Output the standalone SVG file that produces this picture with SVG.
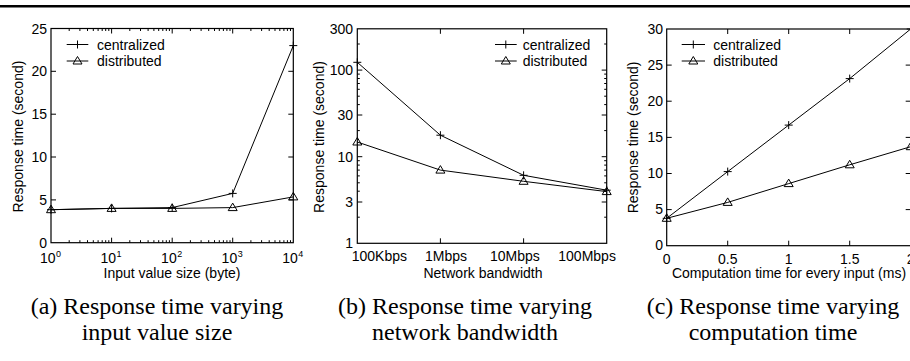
<svg xmlns="http://www.w3.org/2000/svg" xmlns:xlink="http://www.w3.org/1999/xlink" width="910" height="361" viewBox="0 0 910 361">
  <style>
    .ax { fill: none; stroke: #000; stroke-width: 1.2; }
    .tk { fill: none; stroke: #000; stroke-width: 1; }
    .dl { fill: none; stroke: #000; stroke-width: 1; }
    .t { font-family: "Liberation Sans", Arial, sans-serif; font-size: 14px; fill: #000; }
    .e { text-anchor: end; }
    .m { text-anchor: middle; }
    .sup { font-family: "Liberation Sans", Arial, sans-serif; font-size: 9px; fill: #000; }
    .cap { font-family: "Liberation Serif", "Times New Roman", serif; font-size: 24px; fill: #000; text-anchor: middle; }
  </style>
  <defs>
    <path id="plus" d="M-4,0H4M0,-4V4" fill="none" stroke="#000" stroke-width="1"/>
    <path id="tri" d="M0,-4.5L4.5,3L-4.5,3Z" fill="none" stroke="#000" stroke-width="1"/>
    <!-- minor ticks for one decade of a horizontal log axis (60.575 px per decade) -->
    <path id="mxa" d="M18.2,0v-2.5M28.9,0v-2.5M36.5,0v-2.5M42.3,0v-2.5M47.1,0v-2.5M51.2,0v-2.5M54.7,0v-2.5M57.8,0v-2.5" class="tk"/>
    <!-- minor ticks for one decade of a vertical log axis (86.6 px per decade), 2,4..9 -->
    <path id="myb" d="M0,-26.1h2.5M0,-52.1h2.5M0,-60.5h2.5M0,-67.4h2.5M0,-73.2h2.5M0,-78.2h2.5M0,-82.6h2.5" class="tk"/>
  </defs>

  <!-- top rule -->
  <rect id="rule" x="0" y="5" width="910" height="2.5" fill="#000"/>

  <!-- (a) response time vs input value size -->
  <g id="panel-a">
    <rect class="ax" x="51" y="28.5" width="242.3" height="214.2"/>
    <path class="tk" d="M111.6,242.7v-5M172.2,242.7v-5M232.7,242.7v-5M111.6,28.5v5M172.2,28.5v5M232.7,28.5v5M51,199.9h5M51,157h5M51,114.2h5M51,71.3h5M293.3,199.9h-5M293.3,157h-5M293.3,114.2h-5M293.3,71.3h-5"/>
    <use xlink:href="#mxa" transform="translate(51,242.7)"/>
    <use xlink:href="#mxa" transform="translate(111.6,242.7)"/>
    <use xlink:href="#mxa" transform="translate(172.2,242.7)"/>
    <use xlink:href="#mxa" transform="translate(232.7,242.7)"/>
    <use xlink:href="#mxa" transform="translate(51,28.5) scale(1,-1)"/>
    <use xlink:href="#mxa" transform="translate(111.6,28.5) scale(1,-1)"/>
    <use xlink:href="#mxa" transform="translate(172.2,28.5) scale(1,-1)"/>
    <use xlink:href="#mxa" transform="translate(232.7,28.5) scale(1,-1)"/>
    <g class="t e">
      <text x="47" y="247.7">0</text>
      <text x="47" y="204.9">5</text>
      <text x="47" y="162">10</text>
      <text x="47" y="119.2">15</text>
      <text x="47" y="76.3">20</text>
      <text x="47" y="33.5">25</text>
    </g>
    <g class="t e">
      <text x="55.5" y="263">10</text>
      <text x="116.1" y="263">10</text>
      <text x="176.7" y="263">10</text>
      <text x="237.2" y="263">10</text>
      <text x="297.8" y="263">10</text>
    </g>
    <g class="sup">
      <text x="56" y="256.5">0</text>
      <text x="116.6" y="256.5">1</text>
      <text x="177.2" y="256.5">2</text>
      <text x="237.7" y="256.5">3</text>
      <text x="298.3" y="256.5">4</text>
    </g>
    <text class="t m" x="172" y="278">Input value size (byte)</text>
    <text class="t m" transform="translate(23,136.5) rotate(-90)">Response time (second)</text>
    <polyline class="dl" points="51,209.7 111.6,208.4 172.2,207.6 232.7,193.4 293.3,45.6"/>
    <polyline class="dl" points="51,209.7 111.6,208.4 172.2,208.4 232.7,207.6 293.3,196.9"/>
    <use xlink:href="#plus" x="51" y="209.7"/>
    <use xlink:href="#plus" x="111.6" y="208.4"/>
    <use xlink:href="#plus" x="172.2" y="207.6"/>
    <use xlink:href="#plus" x="232.7" y="193.4"/>
    <use xlink:href="#plus" x="293.3" y="45.6"/>
    <use xlink:href="#tri" x="51" y="209.7"/>
    <use xlink:href="#tri" x="111.6" y="208.4"/>
    <use xlink:href="#tri" x="172.2" y="208.4"/>
    <use xlink:href="#tri" x="232.7" y="207.6"/>
    <use xlink:href="#tri" x="293.3" y="196.9"/>
    <path class="dl" d="M66.7,44.5H88.3M66.7,61H88.3"/>
    <use xlink:href="#plus" x="77.5" y="44.5"/>
    <use xlink:href="#tri" x="77.5" y="61"/>
    <text class="t" x="97" y="49.5">centralized</text>
    <text class="t" x="97" y="66">distributed</text>
    <text class="cap" x="157" y="313.5">(a) Response time varying</text>
    <text class="cap" x="157" y="340">input value size</text>
  </g>

  <!-- (b) response time vs network bandwidth -->
  <g id="panel-b">
    <rect class="ax" x="357.3" y="28.8" width="249.4" height="214.5"/>
    <path class="tk" d="M440.4,243.3v-5M523.6,243.3v-5M440.4,28.8v5M523.6,28.8v5M357.3,202h5M357.3,156.7h5M357.3,115h5M357.3,70.1h5M606.7,202h-5M606.7,156.7h-5M606.7,115h-5M606.7,70.1h-5M357.3,44h2.5M606.7,44h-2.5"/>
    <use xlink:href="#myb" transform="translate(357.3,243.3)"/>
    <use xlink:href="#myb" transform="translate(357.3,156.7)"/>
    <use xlink:href="#myb" transform="translate(606.7,243.3) scale(-1,1)"/>
    <use xlink:href="#myb" transform="translate(606.7,156.7) scale(-1,1)"/>
    <g class="t e">
      <text x="353" y="248.3">1</text>
      <text x="353" y="207">3</text>
      <text x="353" y="161.7">10</text>
      <text x="353" y="120">30</text>
      <text x="353" y="75.1">100</text>
      <text x="353" y="33.8">300</text>
    </g>
    <g class="t">
      <text x="351.7" y="261">100Kbps</text>
      <text x="425" y="261">1Mbps</text>
      <text x="490" y="261">10Mbps</text>
      <text x="558.3" y="261">100Mbps</text>
    </g>
    <text class="t m" x="483" y="278">Network bandwidth</text>
    <text class="t m" transform="translate(323.5,137) rotate(-90)">Response time (second)</text>
    <polyline class="dl" points="357.3,62.3 440.4,135.2 523.6,175.3 606.7,190.2"/>
    <polyline class="dl" points="357.3,142 440.4,170.1 523.6,181.3 606.7,191.6"/>
    <use xlink:href="#plus" x="357.3" y="62.3"/>
    <use xlink:href="#plus" x="440.4" y="135.2"/>
    <use xlink:href="#plus" x="523.6" y="175.3"/>
    <use xlink:href="#plus" x="606.7" y="190.2"/>
    <use xlink:href="#tri" x="357.3" y="142"/>
    <use xlink:href="#tri" x="440.4" y="170.1"/>
    <use xlink:href="#tri" x="523.6" y="181.3"/>
    <use xlink:href="#tri" x="606.7" y="191.6"/>
    <path class="dl" d="M495,44.5H516.7M495,61H516.7"/>
    <use xlink:href="#plus" x="505.8" y="44.5"/>
    <use xlink:href="#tri" x="505.8" y="61"/>
    <text class="t" x="522.7" y="49.5">centralized</text>
    <text class="t" x="522.7" y="66">distributed</text>
    <text class="cap" x="465" y="313.5">(b) Response time varying</text>
    <text class="cap" x="465" y="340">network bandwidth</text>
  </g>

  <!-- (c) response time vs computation time -->
  <g id="panel-c">
    <rect class="ax" x="666.7" y="29" width="244" height="216.7"/>
    <path class="tk" d="M727.7,245.7v-5M788.7,245.7v-5M849.7,245.7v-5M727.7,29v5M788.7,29v5M849.7,29v5M666.7,209.6h5M666.7,173.5h5M666.7,137.4h5M666.7,101.2h5M666.7,65.1h5M910.7,209.6h-5M910.7,173.5h-5M910.7,137.4h-5M910.7,101.2h-5M910.7,65.1h-5"/>
    <g class="t e">
      <text x="663" y="250.2">0</text>
      <text x="663" y="214.4">5</text>
      <text x="663" y="178.3">10</text>
      <text x="663" y="142.2">15</text>
      <text x="663" y="106">20</text>
      <text x="663" y="69.9">25</text>
      <text x="663" y="33.8">30</text>
    </g>
    <g class="t m">
      <text x="666.7" y="263.5">0</text>
      <text x="727.7" y="263.5">0.5</text>
      <text x="788.7" y="263.5">1</text>
      <text x="849.7" y="263.5">1.5</text>
      <text x="910.7" y="263.5">2</text>
    </g>
    <text class="t m" x="789" y="278">Computation time for every input (ms)</text>
    <text class="t m" transform="translate(638,137.4) rotate(-90)">Response time (second)</text>
    <polyline class="dl" points="666.7,218.3 727.7,171.6 788.7,125.1 849.7,78.6 910.7,29"/>
    <polyline class="dl" points="666.7,218.3 727.7,202.4 788.7,183.6 849.7,164.8 910.7,146.7"/>
    <use xlink:href="#plus" x="666.7" y="218.3"/>
    <use xlink:href="#plus" x="727.7" y="171.6"/>
    <use xlink:href="#plus" x="788.7" y="125.1"/>
    <use xlink:href="#plus" x="849.7" y="78.6"/>
    <use xlink:href="#plus" x="910.7" y="29"/>
    <use xlink:href="#tri" x="666.7" y="218.3"/>
    <use xlink:href="#tri" x="727.7" y="202.4"/>
    <use xlink:href="#tri" x="788.7" y="183.6"/>
    <use xlink:href="#tri" x="849.7" y="164.8"/>
    <use xlink:href="#tri" x="910.7" y="146.7"/>
    <path class="dl" d="M681.7,44.5H705M681.7,61H705"/>
    <use xlink:href="#plus" x="693.3" y="44.5"/>
    <use xlink:href="#tri" x="693.3" y="61"/>
    <text class="t" x="713.3" y="49.5">centralized</text>
    <text class="t" x="713.3" y="66">distributed</text>
    <text class="cap" x="773" y="313.5">(c) Response time varying</text>
    <text class="cap" x="773" y="340">computation time</text>
  </g>
</svg>
